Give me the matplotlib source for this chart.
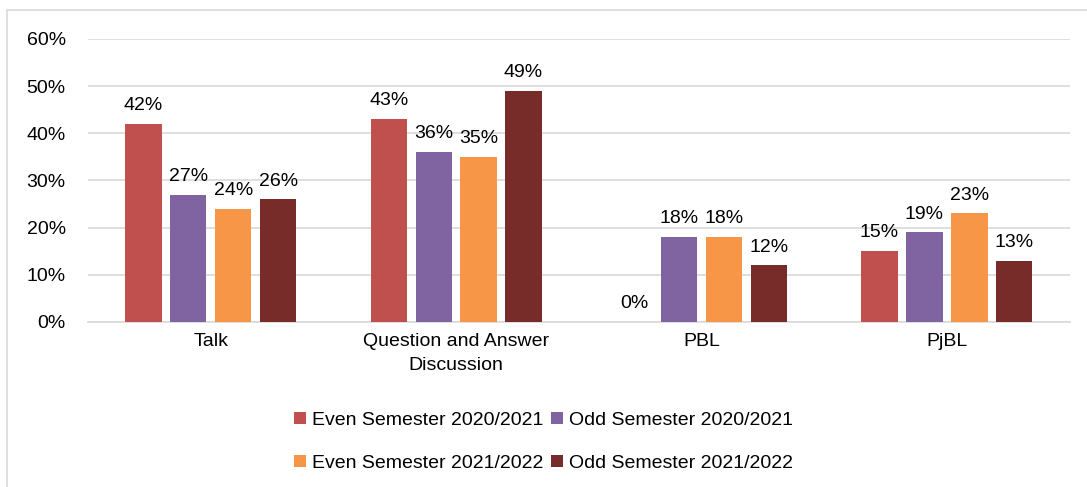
import matplotlib
matplotlib.use("Agg")
import matplotlib.pyplot as plt
import numpy as np
from matplotlib.patches import Rectangle
from matplotlib.ticker import PercentFormatter

plt.rcParams['font.family'] = ['Liberation Sans', 'DejaVu Sans']

categories = ["Talk", "Question and Answer\nDiscussion", "PBL", "PjBL"]
series_names = ["Even Semester 2020/2021", "Odd Semester 2020/2021",
                "Even Semester 2021/2022", "Odd Semester 2021/2022"]
even_2020 = [42, 43, 0, 15]
odd_2020 = [27, 36, 18, 19]
even_2021 = [24, 35, 18, 23]
odd_2021 = [26, 49, 12, 13]
colors = ["#C0504D", "#8064A2", "#F79646", "#772C2A"]

values = [even_2020, odd_2020, even_2021, odd_2021]

fig = plt.figure(figsize=(10.87, 4.87), dpi=100)
ax = fig.add_axes([0.081, 0.339, 0.903, 0.581])

x = np.arange(len(categories))
width = 0.148
step = 0.183
offsets = (np.arange(4) - 1.5) * step
handles = []
for vals, name, c, off in zip(values, series_names, colors, offsets):
    bars = ax.bar(x + off, vals, width=width, color=c, label=name, zorder=3)
    handles.append(bars)
    for b, v in zip(bars, vals):
        ax.annotate(f"{v}%", (b.get_x() + b.get_width() / 2, v),
                    xytext=(0, 7), textcoords="offset points",
                    ha="center", va="bottom", fontsize=14, color="#000000")

ax.set_xlim(-0.5, 3.5)
ax.set_ylim(0, 60)
ax.set_yticks(np.arange(0, 61, 10))
ax.yaxis.set_major_formatter(PercentFormatter(decimals=0))
ax.set_xticks(x)
ax.set_xticklabels(categories, fontsize=14, linespacing=1.55)
ax.tick_params(axis='y', labelsize=14, length=0, pad=16)
ax.tick_params(axis='x', length=0, pad=8)
ax.grid(axis='y', color="#D9D9D9", linewidth=1.2, zorder=0)
for s in ["top", "right", "left"]:
    ax.spines[s].set_visible(False)
ax.spines["bottom"].set_color("#D9D9D9")
ax.spines["bottom"].set_linewidth(1.2)

# row-wise legend order (matplotlib fills columns first)
order = [0, 2, 1, 3]
fig.legend([handles[i] for i in order], [series_names[i] for i in order],
           loc="center", bbox_to_anchor=(0.50, 0.093), ncol=2, frameon=False,
           fontsize=14, handlelength=0.6, handleheight=0.6, handletextpad=0.3,
           columnspacing=0.4, labelspacing=1.35)

fig.add_artist(Rectangle((7 / 1087, -0.1), 1.2, 1 - 10 / 487 + 0.1,
                         transform=fig.transFigure, fill=False,
                         edgecolor="#D9D9D9", linewidth=1.2))

fig.savefig("out.png", dpi=100, facecolor="white")
